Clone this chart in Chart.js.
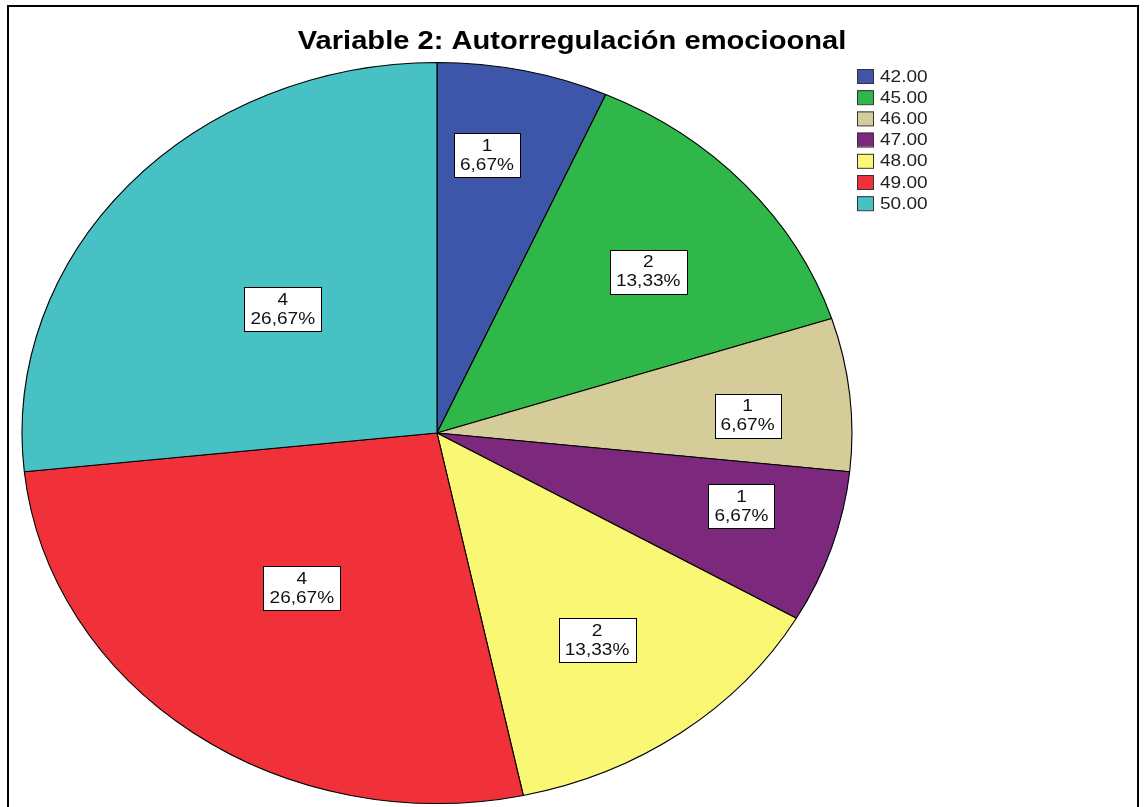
<!DOCTYPE html>
<html lang="es">
<head>
<meta charset="utf-8">
<title>Variable 2: Autorregulación emocioonal</title>
<script src="https://cdn.jsdelivr.net/npm/chart.js@4.4.0/dist/chart.umd.min.js"></script>
<style>
  html, body { margin: 0; padding: 0; background: #fff; }
  canvas { display: block; }
</style>
</head>
<body>
<canvas id="pieChart" width="1144" height="807"></canvas>
<script>
// --- Datos ---
const titulo = 'Variable 2: Autorregulación emocioonal';
const categorias = ['42.00', '45.00', '46.00', '47.00', '48.00', '49.00', '50.00'];
const frecuencias = [1, 2, 1, 1, 2, 4, 4];
const colores = ['#3d56aa', '#30b74a', '#d4cd9a', '#7b287d', '#f9f774', '#f03139', '#48c1c4'];

// Ubicación de etiquetas dentro del sector: [fracción del ángulo, fracción del radio]
const ubicEtiquetas = [[0.38, 0.76], [0.53, 0.67], [0.6, 0.75], [0.38, 0.76], [0.53, 0.68], [0.52, 0.53], [0.5, 0.5]];

// El gráfico original está estirado en horizontal (elipse)
const estiramiento = 1.12;
const fuente = '"Liberation Sans", Arial, sans-serif';

function porcentaje(v, total) {
  return (v / total * 100).toFixed(2).replace('.', ',') + '%';
}

// texto estirado igual que el original
function textoEstirado(ctx, txt, x, y, align) {
  ctx.save();
  ctx.translate(x, y);
  ctx.scale(estiramiento, 1);
  ctx.textAlign = align;
  ctx.fillText(txt, 0, 0);
  ctx.restore();
}

const elipse = {
  id: 'elipse',
  beforeDatasetsDraw(chart) {
    const a = chart.chartArea;
    const cx = (a.left + a.right) / 2, cy = (a.top + a.bottom) / 2;
    const ctx = chart.ctx;
    ctx.save();
    ctx.translate(cx, cy);
    ctx.scale(estiramiento, 1);
    ctx.translate(-cx, -cy);
  },
  afterDatasetsDraw(chart) {
    chart.ctx.restore();
  }
};

const extras = {
  id: 'extras',
  afterDraw(chart) {
    const ctx = chart.ctx;
    const meta = chart.getDatasetMeta(0);
    const total = frecuencias.reduce((s, v) => s + v, 0);

    // marco
    ctx.save();
    ctx.strokeStyle = '#000';
    ctx.lineWidth = 2;
    ctx.strokeRect(8, 6, 1130, 830);

    // título
    ctx.fillStyle = '#000';
    ctx.font = 'bold 26px ' + fuente;
    ctx.textBaseline = 'middle';
    textoEstirado(ctx, titulo, 572, 42, 'center');

    // leyenda
    ctx.font = '17px ' + fuente;
    categorias.forEach((c, i) => {
      const y = 76 + i * 21.2;
      ctx.fillStyle = colores[i];
      ctx.fillRect(857, y - 7, 16, 14);
      ctx.strokeStyle = '#333';
      ctx.lineWidth = 1;
      ctx.strokeRect(857.5, y - 6.5, 16, 14);
      ctx.fillStyle = '#222';
      textoEstirado(ctx, c, 880, y + 1, 'left');
    });

    // etiquetas de cada sector
    meta.data.forEach((arc, i) => {
      const [t, r] = ubicEtiquetas[i];
      const ang = arc.startAngle + t * (arc.endAngle - arc.startAngle);
      const x = arc.x + estiramiento * r * arc.outerRadius * Math.cos(ang);
      const y = arc.y + r * arc.outerRadius * Math.sin(ang);
      const l1 = String(frecuencias[i]);
      const l2 = porcentaje(frecuencias[i], total);
      ctx.font = '17px ' + fuente;
      const w = Math.round(ctx.measureText(l2).width * estiramiento + 12);
      const h = 44;
      const bx = Math.round(x - w / 2), by = Math.round(y - h / 2);
      ctx.fillStyle = '#fff';
      ctx.fillRect(bx, by, w, h);
      ctx.strokeStyle = '#000';
      ctx.lineWidth = 1;
      ctx.strokeRect(bx + 0.5, by + 0.5, w, h);
      ctx.fillStyle = '#111';
      textoEstirado(ctx, l1, x, y - 9, 'center');
      textoEstirado(ctx, l2, x, y + 10, 'center');
    });
    ctx.restore();
  }
};

new Chart(document.getElementById('pieChart'), {
  type: 'pie',
  data: {
    labels: categorias,
    datasets: [{
      data: frecuencias,
      backgroundColor: colores,
      borderColor: '#000',
      borderWidth: 1
    }]
  },
  options: {
    responsive: false,
    animation: false,
    layout: { padding: { left: 66, right: 336, top: 62, bottom: 3 } },
    plugins: {
      legend: { display: false },
      title: { display: false },
      tooltip: { enabled: false }
    }
  },
  plugins: [elipse, extras]
});
</script>
</body>
</html>
